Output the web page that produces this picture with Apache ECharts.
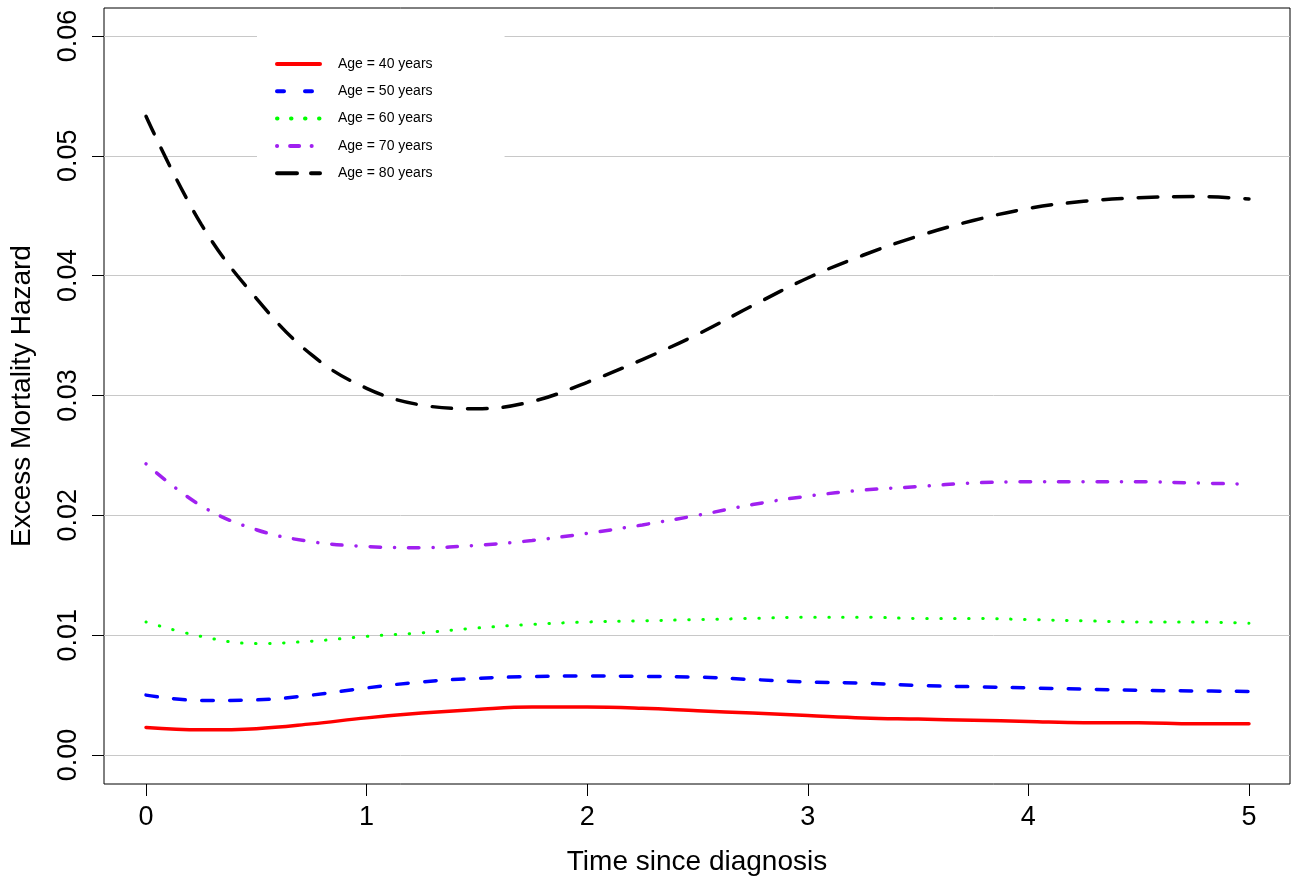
<!DOCTYPE html>
<html>
<head>
<meta charset="utf-8">
<script src="https://cdn.jsdelivr.net/npm/echarts@6/dist/echarts.min.js"></script>
<style>
html,body{margin:0;padding:0;background:#fff;}
#chart{width:1295px;height:881px;}
</style>
</head>
<body>
<div id="chart"></div>
<script>
// Time since diagnosis (years)
const times = [0, 0.25, 0.5, 0.75, 1.0, 1.25, 1.5, 1.75, 2.0, 2.25, 2.5, 2.75, 3.0, 3.25, 3.5, 3.75, 4.0, 4.25, 4.5, 4.75, 5.0];
// Excess mortality hazard by age
const age40 = [0.0023, 0.0021, 0.0022, 0.0026, 0.0031, 0.0035, 0.0038, 0.0040, 0.0040, 0.0039, 0.0037, 0.0035, 0.0033, 0.0031, 0.0030, 0.0029, 0.0028, 0.0027, 0.0027, 0.0026, 0.0026];
const age50 = [0.0050, 0.00455, 0.0046, 0.0050, 0.0056, 0.0061, 0.0064, 0.00655, 0.0066, 0.00656, 0.0065, 0.0063, 0.0061, 0.0060, 0.0058, 0.0057, 0.0056, 0.0055, 0.0054, 0.00535, 0.0053];
const age60 = [0.0111, 0.0099, 0.0093, 0.0095, 0.0099, 0.0102, 0.0106, 0.0109, 0.0111, 0.0112, 0.0113, 0.0114, 0.0115, 0.0115, 0.0114, 0.0114, 0.0113, 0.0112, 0.0111, 0.0111, 0.0110];
const age70 = [0.0243, 0.0208, 0.0188, 0.0178, 0.0174, 0.0173, 0.0175, 0.0179, 0.0185, 0.0192, 0.0200, 0.0209, 0.0216, 0.0221, 0.0224, 0.0227, 0.0228, 0.0228, 0.0228, 0.0227, 0.0226];
const age80 = [0.0533, 0.0443, 0.0381, 0.0334, 0.0306, 0.0292, 0.0289, 0.0295, 0.0311, 0.0330, 0.0351, 0.0375, 0.0398, 0.0417, 0.0433, 0.0446, 0.0456, 0.0462, 0.0465, 0.0466, 0.0464];
const seriesNames = ['Age = 40 years', 'Age = 50 years', 'Age = 60 years', 'Age = 70 years', 'Age = 80 years'];
const xTicks = [0, 1, 2, 3, 4, 5];
const yTicks = [0, 0.01, 0.02, 0.03, 0.04, 0.05, 0.06];

const FONT = '"Liberation Sans", Arial, Helvetica, sans-serif';
const pairs = arr => times.map((t, i) => [t, arr[i]]);

const styles = [
  {color: '#FF0000', width: 3.5, type: 'solid', legendType: 'solid'},
  {color: '#0000FF', width: 3.5, type: [11.5, 16.5], legendType: [7, 21]},
  {color: '#00FF00', width: 3, type: [0.5, 13.5], legendType: [0.5, 13.5]},
  {color: '#A020F0', width: 3.5, type: [0.1, 13.9, 10.5, 14], legendType: [0.1, 13, 9, 12.5]},
  {color: '#000000', width: 3.5, type: [19.5, 16], legendType: [20, 14]}
];
const allData = [age40, age50, age60, age70, age80];

const series = allData.map((arr, i) => ({
  name: seriesNames[i],
  type: 'line',
  data: pairs(arr),
  smooth: 0.4,
  showSymbol: false,
  symbol: 'none',
  silent: true,
  z: 3,
  lineStyle: {color: styles[i].color, width: styles[i].width, type: styles[i].type, cap: 'round'},
  itemStyle: {color: styles[i].color}
}));
// horizontal reference grid lines
series[0].markLine = {
  silent: true,
  symbol: 'none',
  label: {show: false},
  lineStyle: {color: '#C8C8C8', width: 1, type: 'solid'},
  data: yTicks.map(v => ({yAxis: v})),
  z: 1
};

const legendData = seriesNames.map((n, i) => ({
  name: n,
  itemStyle: {opacity: 0},
  lineStyle: {color: styles[i].color, width: 4, type: styles[i].legendType, cap: 'round', opacity: 1}
}));

const chart = echarts.init(document.getElementById('chart'), null, {renderer: 'canvas'});
chart.setOption({
  backgroundColor: '#ffffff',
  animation: false,
  grid: {left: 104, right: 5, top: 8, bottom: 96, show: true, borderColor: '#000', borderWidth: 1, backgroundColor: 'transparent'},
  legend: {
    orient: 'vertical',
    left: 257,
    top: 29,
    padding: [28, 72, 28, 18],
    backgroundColor: '#ffffff',
    itemWidth: 43,
    itemHeight: 14,
    itemGap: 13.3,
    selectedMode: false,
    textStyle: {fontFamily: FONT, fontSize: 14, color: '#000', padding: [0, 0, 0, 13]},
    data: legendData
  },
  xAxis: {
    type: 'value',
    min: -0.1904,
    max: 5.186,
    name: 'Time since diagnosis',
    nameLocation: 'middle',
    nameGap: 64,
    nameTextStyle: {fontFamily: FONT, fontSize: 28, color: '#000'},
    axisLine: {show: false, onZero: false},
    splitLine: {show: false},
    axisTick: {show: true, inside: false, length: 12, customValues: xTicks, lineStyle: {color: '#000', width: 1}},
    axisLabel: {show: true, customValues: xTicks, margin: 20, fontFamily: FONT, fontSize: 27, color: '#000', formatter: v => String(v)}
  },
  yAxis: {
    type: 'value',
    min: -0.002417,
    max: 0.06233,
    name: 'Excess Mortality Hazard',
    nameLocation: 'middle',
    nameGap: 68,
    nameRotate: 90,
    nameTextStyle: {fontFamily: FONT, fontSize: 28, color: '#000'},
    axisLine: {show: false, onZero: false},
    splitLine: {show: false},
    axisTick: {show: true, inside: false, length: 12, customValues: yTicks, lineStyle: {color: '#000', width: 1}},
    axisLabel: {show: true, customValues: yTicks, rotate: 90, margin: 22, fontFamily: FONT, fontSize: 27, color: '#000', formatter: v => v.toFixed(2)}
  },
  series: series
});
</script>
</body>
</html>
